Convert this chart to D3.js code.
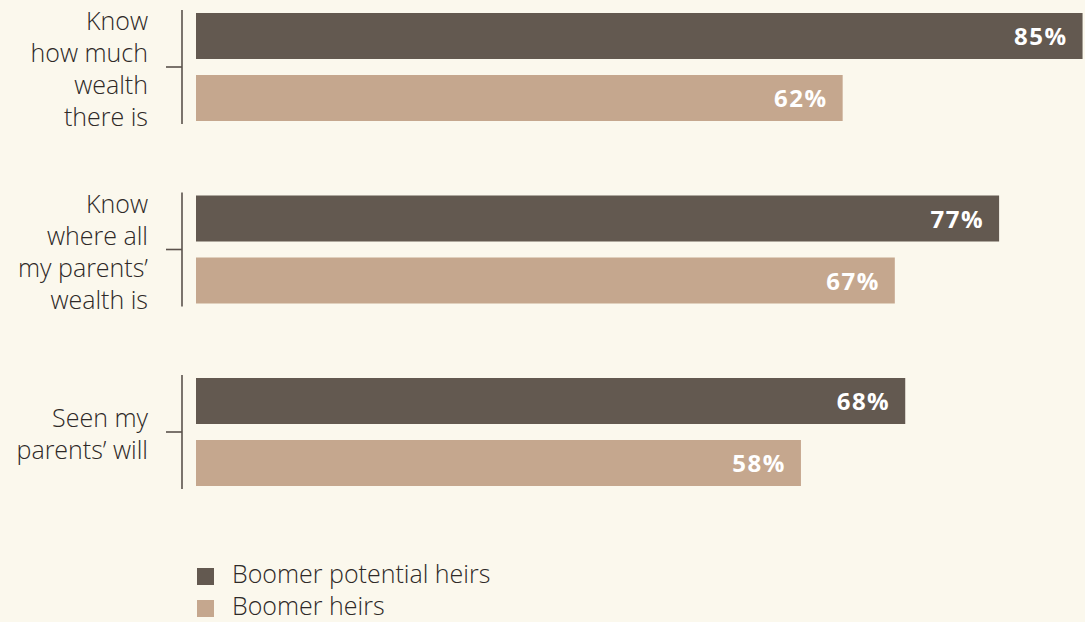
<!DOCTYPE html>
<html>
<head>
<meta charset="utf-8">
<script src="https://cdn.jsdelivr.net/npm/d3@7"></script>
<style>
  html, body { margin: 0; padding: 0; background: #fbf8ed; }
  svg { display: block; }
</style>
</head>
<body>
<svg id="chart" width="1085" height="622"></svg>
<script>
// Survey categories (label lines) and shares for each generation
const categories = [
  ["Know", "how much", "wealth", "there is"],
  ["Know", "where all", "my parents\u2019", "wealth is"],
  ["Seen my", "parents\u2019 will"]
];
const seriesNames = ["Boomer potential heirs", "Boomer heirs"];
const potentialHeirs = [85, 77, 68];
const heirs = [62, 67, 58];
const valueSuffix = "%";

const colors = ["#635950", "#c5a78e"];
const W = 1085, H = 622;
const svg = d3.select("#chart");
svg.append("rect").attr("width", W).attr("height", H).attr("fill", "#fbf8ed");

const font = "'Open Sans', sans-serif";
const textColor = "#2e2927";

const x = d3.scaleLinear().domain([0, 100]).range([196, 1239]);
const y = d3.scaleBand().domain(d3.range(categories.length)).range([13, 13 + 182.5 * 3]).paddingInner(0).paddingOuter(0);
const barH = 46, barGap = 16;
const groupH = barH * 2 + barGap;

const series = [potentialHeirs, heirs];

const groups = svg.selectAll("g.grp")
  .data(categories.map((c, i) => ({ lines: c, vals: series.map(s => s[i]), i })))
  .join("g").attr("class", "grp")
  .attr("transform", d => `translate(0,${y(d.i)})`);

// bars
groups.selectAll("rect.bar")
  .data(d => d.vals.map((v, k) => ({ v, k })))
  .join("rect").attr("class", "bar")
  .attr("x", x(0))
  .attr("y", d => d.k * (barH + barGap))
  .attr("width", d => x(d.v) - x(0))
  .attr("height", barH)
  .attr("fill", d => colors[d.k]);

// value labels
groups.selectAll("text.val")
  .data(d => d.vals.map((v, k) => ({ v, k })))
  .join("text").attr("class", "val")
  .attr("x", d => x(d.v) - 15)
  .attr("y", d => d.k * (barH + barGap) + barH / 2 + 9)
  .attr("text-anchor", "end")
  .attr("fill", "#ffffff")
  .attr("font-family", font)
  .attr("font-weight", 700)
  .attr("font-size", 24)
  .attr("letter-spacing", 1.5)
  .text(d => d.v + valueSuffix);

// category bracket line and tick
const lineColor = "#5b524c";
groups.append("line")
  .attr("x1", 182).attr("x2", 182)
  .attr("y1", -3).attr("y2", groupH + 3)
  .attr("stroke", lineColor).attr("stroke-width", 1.6);
groups.append("line")
  .attr("x1", 166).attr("x2", 182)
  .attr("y1", groupH / 2).attr("y2", groupH / 2)
  .attr("stroke", lineColor).attr("stroke-width", 1.6);

// category labels
const lineH = 32;
groups.append("text")
  .attr("text-anchor", "end")
  .attr("fill", textColor)
  .attr("font-family", font)
  .attr("font-weight", 300)
  .attr("font-size", 25)
  .each(function (d) {
    const n = d.lines.length;
    const first = groupH / 2 - (n - 1) / 2 * lineH + 11;
    d3.select(this).selectAll("tspan")
      .data(d.lines)
      .join("tspan")
      .attr("x", 148)
      .attr("y", (t, j) => first + j * lineH)
      .text(t => t);
  });

// legend
const legend = svg.append("g").attr("transform", "translate(197,568)");
const items = legend.selectAll("g").data(seriesNames).join("g")
  .attr("transform", (d, i) => `translate(0,${i * 32})`);
items.append("rect").attr("width", 17).attr("height", 17).attr("fill", (d, i) => colors[i]);
items.append("text")
  .attr("x", 35).attr("y", 15)
  .attr("fill", textColor)
  .attr("font-family", font)
  .attr("font-weight", 300)
  .attr("font-size", 25)
  .text(d => d);
</script>
</body>
</html>
